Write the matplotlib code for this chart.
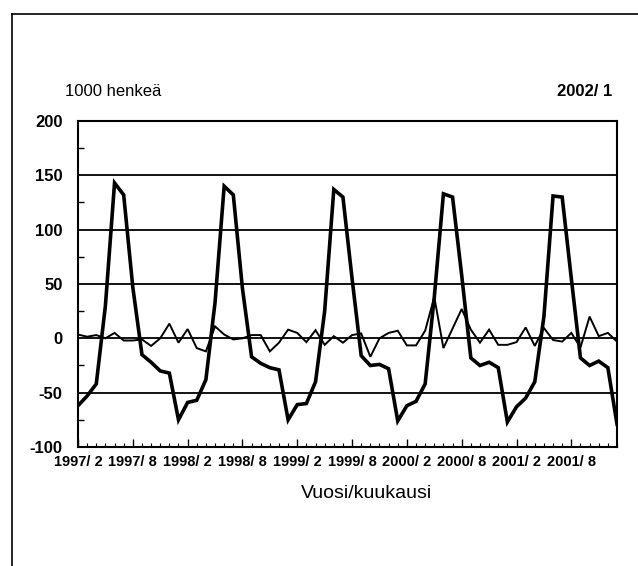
import matplotlib
matplotlib.use("Agg")
import matplotlib.pyplot as plt
from matplotlib.lines import Line2D
import numpy as np

# Monthly series, 1997/2 .. 2002/1 (1000 persons)
thick_series = [-62, -53, -42, 30, 143, 132, 47, -15, -22, -30, -32, -75,
                -59, -57, -38, 33, 140, 132, 46, -17, -23, -27, -29, -75,
                -61, -60, -40, 25, 137, 130, 55, -16, -25, -24, -28, -76,
                -62, -58, -42, 38, 133, 130, 58, -18, -25, -22, -27, -77,
                -63, -55, -40, 20, 131, 130, 55, -18, -25, -21, -27, -79]
thin_series = [3.5, 1.5, 3, 0, 5, -2, -2, -1, -7, 0, 13.5, -4,
               8.5, -9, -12, 11, 3.5, -1, 0, 3, 3, -12, -4, 8,
               5, -3.5, 7.5, -6, 2, -4, 3, 4.5, -17, 0, 5, 7,
               -6.5, -6.5, 7, 38, -9, 9, 27, 8, -4, 8, -6, -6,
               -3.5, 10, -7, 9.5, -1.5, -3, 5, -8.5, 20, 2, 5, -3]
x_tick_labels = ["1997/ 2", "1997/ 8", "1998/ 2", "1998/ 8", "1999/ 2",
                 "1999/ 8", "2000/ 2", "2000/ 8", "2001/ 2", "2001/ 8"]
y_ticks = [-100, -50, 0, 50, 100, 150, 200]
grid_values = [-50, 0, 50, 100, 150]

FONT = ["Liberation Sans Narrow", "Liberation Sans", "DejaVu Sans"]
plt.rcParams["font.family"] = FONT

W, H = 638, 566
fig = plt.figure(figsize=(W / 100, H / 100), dpi=100)
fig.patch.set_facecolor("white")

L, R, T, B = 78, 617, 121, 447
ax = fig.add_axes([L / W, 1 - B / H, (R - L) / W, (B - T) / H])

x = np.arange(len(thick_series))
for g in grid_values:
    ax.axhline(g, color="black", lw=1.3, zorder=1)
ax.plot(x, thin_series, color="black", lw=1.4, zorder=2, solid_joinstyle="miter")
ax.plot(x, thick_series, color="black", lw=2.6, zorder=3, solid_joinstyle="miter")

ax.set_xlim(0, len(thick_series) - 1)
ax.set_ylim(-100, 200)
ax.set_yticks(y_ticks)
ax.set_yticklabels([str(v) for v in y_ticks], fontsize=12, fontweight="bold")
ax.set_yticks(np.arange(-75, 200, 50), minor=True)
ax.set_xticks(np.arange(0, len(thick_series), 6))
ax.set_xticklabels(x_tick_labels, fontsize=10.5, fontweight="bold")
ax.set_xticks(np.arange(0, len(thick_series)), minor=True)

ax.tick_params(axis="y", which="major", length=0, pad=11)
ax.tick_params(axis="y", which="minor", direction="in", length=4, width=1)
ax.tick_params(axis="x", which="major", direction="in", length=6, width=1, pad=6)
ax.tick_params(axis="x", which="minor", direction="in", length=3, width=0.8)
for s in ax.spines.values():
    s.set_linewidth(1.5)

fig.text(65 / W, 1 - 92 / H, "1000 henkeä", fontsize=12, ha="left", va="center")
fig.text(612 / W, 1 - 92 / H, "2002/ 1", fontsize=12, fontweight="bold",
         ha="right", va="center")
fig.text(367 / W, 1 - 494 / H, "Vuosi/kuukausi", fontsize=14, ha="center",
         va="center")

# outer frame (top and left edges)
fig.add_artist(Line2D([12 / W, 1.0], [1 - 14 / H, 1 - 14 / H], color="black",
                      lw=1.2, transform=fig.transFigure))
fig.add_artist(Line2D([12 / W, 12 / W], [1 - 14 / H, 0.0], color="black",
                      lw=1.2, transform=fig.transFigure))

fig.savefig("out.png", dpi=100, facecolor="white")
